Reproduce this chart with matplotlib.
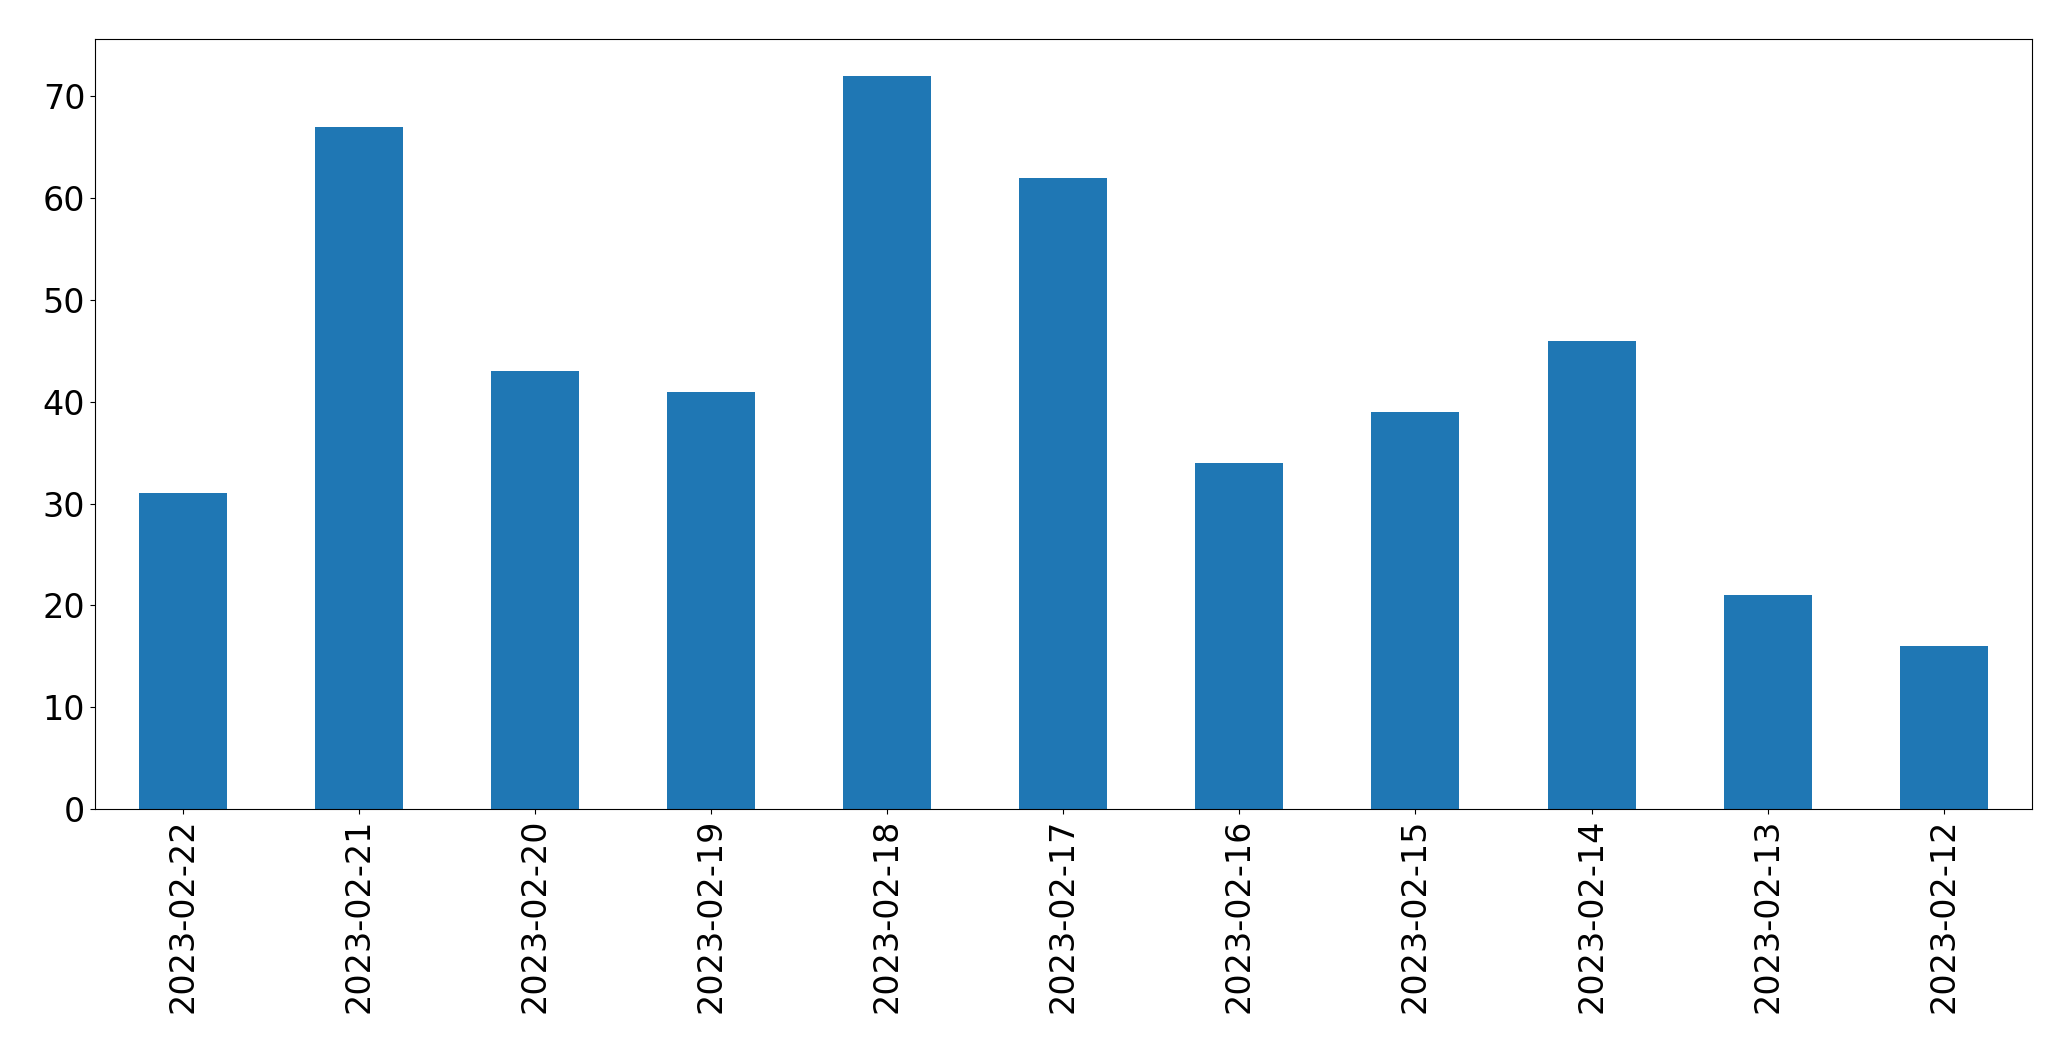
import matplotlib
matplotlib.use("Agg")
import matplotlib.pyplot as plt
import pandas as pd

dates = ["2023-02-22", "2023-02-21", "2023-02-20", "2023-02-19", "2023-02-18",
         "2023-02-17", "2023-02-16", "2023-02-15", "2023-02-14", "2023-02-13",
         "2023-02-12"]
counts = [31, 67, 43, 41, 72, 62, 34, 39, 46, 21, 16]

s = pd.Series(counts, index=dates)
fig, ax = plt.subplots(figsize=(20.71, 10.61), dpi=100)
s.plot(kind="bar", ax=ax, color="#1f77b4", fontsize=24)
ax.tick_params(axis="both", labelsize=24)
fig.subplots_adjust(left=0.0459, right=0.981, top=0.963, bottom=0.2375)
fig.savefig("out.png", dpi=100)
